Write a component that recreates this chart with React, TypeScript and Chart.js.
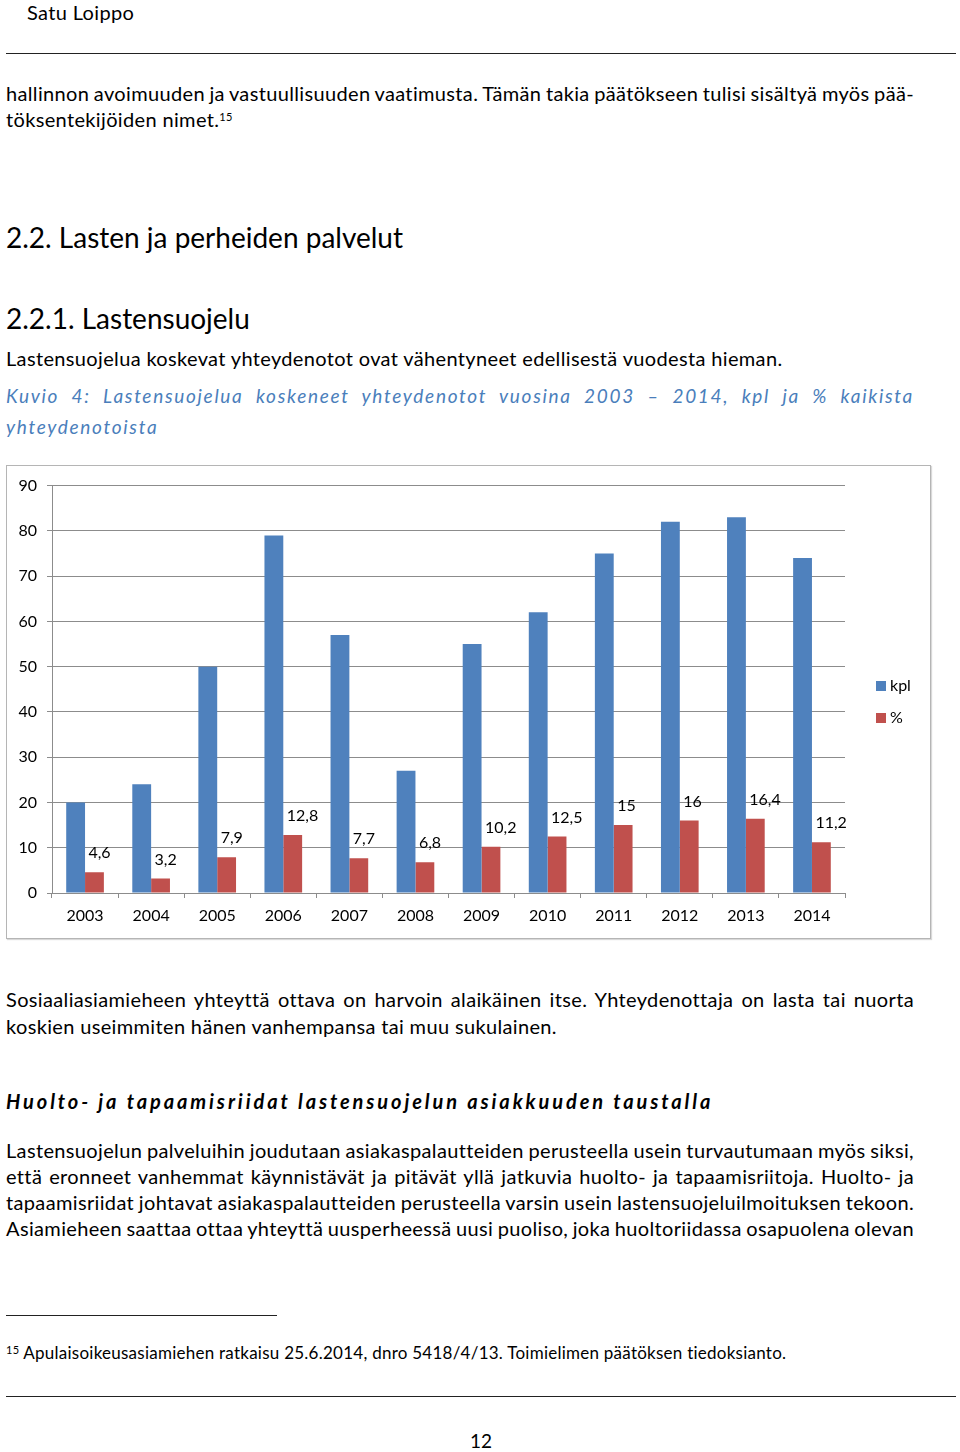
import React, { useEffect, useLayoutEffect, useRef } from "react";
import { Chart, registerables } from "chart.js";

Chart.register(...registerables);

const years = ["2003", "2004", "2005", "2006", "2007", "2008", "2009", "2010", "2011", "2012", "2013", "2014"];
const kplValues = [20, 24, 50, 79, 57, 27, 55, 62, 75, 82, 83, 74];
const percentValues = [4.6, 3.2, 7.9, 12.8, 7.7, 6.8, 10.2, 12.5, 15, 16, 16.4, 11.2];
const seriesNames = ["kpl", "%"];
const yMin = 0;
const yMax = 90;
const yStep = 10;

const BLUE = "#4F81BD";
const RED = "#C0504D";
const GRID = "#8c8c8c";
const FONT = "Lato, 'Open Sans', sans-serif";

const fmt = (v: number) => String(v).replace(".", ",");

const labelPlugin = {
  id: "pctLabels",
  afterDatasetsDraw(chart: any) {
    const ctx = chart.ctx;
    const meta = chart.getDatasetMeta(1);
    ctx.save();
    ctx.font = "16px " + FONT;
    ctx.fillStyle = "#000";
    ctx.textAlign = "left";
    ctx.textBaseline = "middle";
    meta.data.forEach((bar: any, i: number) => {
      const v = chart.data.datasets[1].data[i];
      ctx.fillText(fmt(v), bar.x - 6, bar.y - 19);
    });
    ctx.restore();
  },
};

const legendPlugin = {
  id: "sideLegend",
  afterDraw(chart: any) {
    const ctx = chart.ctx;
    const area = chart.chartArea;
    ctx.save();
    ctx.font = "16px " + FONT;
    ctx.textAlign = "left";
    ctx.textBaseline = "middle";
    chart.data.datasets.forEach((ds: any, i: number) => {
      const cy = 220 + i * 32;
      const sx = area.right + 31;
      ctx.fillStyle = ds.backgroundColor;
      ctx.fillRect(sx, cy - 5, 10, 10);
      ctx.fillStyle = "#000";
      ctx.fillText(ds.label, sx + 14, cy);
    });
    ctx.restore();
  },
};

function BarChart() {
  const ref = useRef<HTMLCanvasElement | null>(null);
  useEffect(() => {
    if (!ref.current) return;
    const chart = new Chart(ref.current, {
      type: "bar",
      data: {
        labels: years,
        datasets: [
          { label: seriesNames[0], data: kplValues, backgroundColor: BLUE, barPercentage: 1, categoryPercentage: 0.57 },
          { label: seriesNames[1], data: percentValues, backgroundColor: RED, barPercentage: 1, categoryPercentage: 0.57 },
        ],
      },
      options: {
        animation: false,
        responsive: false,
        maintainAspectRatio: false,
        layout: { padding: { left: 0, right: 85, top: 19, bottom: 0 } },
        plugins: { legend: { display: false }, tooltip: { enabled: false } },
        scales: {
          x: {
            grid: { display: true, drawOnChartArea: false, drawTicks: true, tickLength: 5, offset: true, color: GRID },
            border: { display: true, color: GRID },
            ticks: { color: "#000", font: { size: 16, family: FONT }, padding: 8, maxRotation: 0 },
            afterFit: (s: any) => { s.height = 45; },
          },
          y: {
            min: yMin,
            max: yMax,
            grid: { color: GRID, tickLength: 5 },
            border: { display: true, color: GRID },
            ticks: { stepSize: yStep, color: "#000", font: { size: 16, family: FONT }, padding: 10 },
            afterFit: (s: any) => { s.width = 45; },
          },
        },
      },
      plugins: [labelPlugin, legendPlugin],
    });
    return () => chart.destroy();
  }, []);
  return <canvas ref={ref} width={923} height={472} style={{ display: "block", width: 923, height: 472 }} />;
}

function Line(props: { x?: number; y: number; w?: number; size?: number; ls?: number; justify?: boolean; style?: any; children: any }) {
  const size = props.size ?? 20;
  const lh = Math.round(size * 1.25);
  const target = props.w ?? 908;
  const spanRef = useRef<HTMLSpanElement | null>(null);
  useLayoutEffect(() => {
    if (!props.justify) return;
    const fit = () => {
      const el = spanRef.current;
      if (!el) return;
      el.style.wordSpacing = "0px";
      const w = el.getBoundingClientRect().width;
      const txt = el.textContent || "";
      const n = (txt.trim().match(/ /g) || []).length;
      if (n > 0) el.style.wordSpacing = (target - w) / n + "px";
    };
    fit();
    if ((document as any).fonts && (document as any).fonts.ready) (document as any).fonts.ready.then(fit);
  }, []);
  return (
    <div
      style={{
        position: "absolute",
        left: props.x ?? 6,
        top: props.y - lh / 2,
        width: target,
        fontSize: size,
        letterSpacing: (props.ls ?? 0.35) + "px",
        lineHeight: lh + "px",
        whiteSpace: "nowrap",
        ...props.style,
      }}
    >
      <span ref={spanRef}>{props.children}</span>
    </div>
  );
}

export default function App() {
  const caption = { color: "#4a7ebb", fontStyle: "italic" };
  return (
    <div style={{ position: "absolute", left: 0, top: 0, width: 960, height: 1452, background: "#fff", color: "#000", fontFamily: FONT, overflow: "hidden" }}>
      <Line x={27} y={12}>Satu Loippo</Line>
      <div style={{ position: "absolute", left: 6, top: 53, width: 950, borderTop: "1.5px solid #222" }} />
      <Line y={93} justify>hallinnon avoimuuden ja vastuullisuuden vaatimusta. Tämän takia päätökseen tulisi sisältyä myös pää-</Line>
      <Line y={119}>
        töksentekijöiden nimet.<sup style={{ fontSize: 11, verticalAlign: "6px", lineHeight: 0 }}>15</sup>
      </Line>
      <Line y={237} size={28} ls={0}>2.2. Lasten ja perheiden palvelut</Line>
      <Line y={318} size={28} ls={0}>2.2.1. Lastensuojelu</Line>
      <Line y={358}>Lastensuojelua koskevat yhteydenotot ovat vähentyneet edellisestä vuodesta hieman.</Line>
      <Line y={396} justify size={19} ls={1.7} style={caption}>Kuvio 4: Lastensuojelua koskeneet yhteydenotot vuosina 2003 – 2014, kpl ja % kaikista</Line>
      <Line y={427} size={19} ls={1.7} style={caption}>yhteydenotoista</Line>

      <div style={{ position: "absolute", left: 6, top: 465, width: 923, height: 472, border: "1px solid #b5b5b5", boxShadow: "1px 1px 1px rgba(0,0,0,0.15)" }}>
        <BarChart />
      </div>

      <Line y={999} justify>Sosiaaliasiamieheen yhteyttä ottava on harvoin alaikäinen itse. Yhteydenottaja on lasta tai nuorta</Line>
      <Line y={1026}>koskien useimmiten hänen vanhempansa tai muu sukulainen.</Line>
      <Line y={1101} ls={2.9} style={{ fontWeight: 700, fontStyle: "italic" }}>Huolto- ja tapaamisriidat lastensuojelun asiakkuuden taustalla</Line>
      <Line y={1150} justify>Lastensuojelun palveluihin joudutaan asiakaspalautteiden perusteella usein turvautumaan myös siksi,</Line>
      <Line y={1176} justify>että eronneet vanhemmat käynnistävät ja pitävät yllä jatkuvia huolto- ja tapaamisriitoja. Huolto- ja</Line>
      <Line y={1202} justify>tapaamisriidat johtavat asiakaspalautteiden perusteella varsin usein lastensuojeluilmoituksen tekoon.</Line>
      <Line y={1228} justify>Asiamieheen saattaa ottaa yhteyttä uusperheessä uusi puoliso, joka huoltoriidassa osapuolena olevan</Line>

      <div style={{ position: "absolute", left: 6, top: 1315, width: 271, borderTop: "1px solid #222" }} />
      <Line y={1352} size={17} ls={0.25}>
        <sup style={{ fontSize: 11, verticalAlign: "5px", lineHeight: 0 }}>15</sup> Apulaisoikeusasiamiehen ratkaisu 25.6.2014, dnro 5418/4/13. Toimielimen päätöksen tiedoksianto.
      </Line>
      <div style={{ position: "absolute", left: 6, top: 1396, width: 950, borderTop: "1.5px solid #222" }} />
      <div style={{ position: "absolute", left: 0, width: 962, top: 1441 - 12, fontSize: 19, lineHeight: "24px", textAlign: "center" }}>12</div>
    </div>
  );
}
